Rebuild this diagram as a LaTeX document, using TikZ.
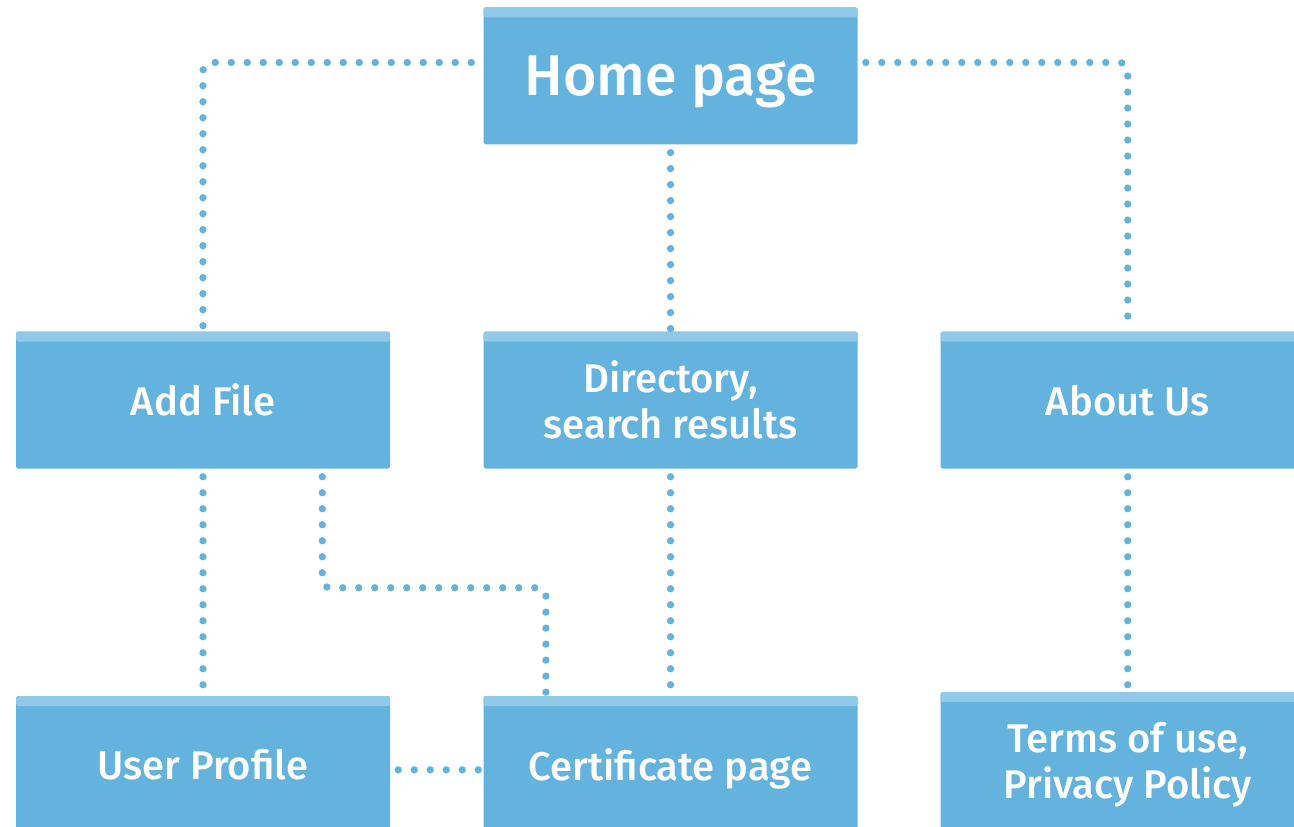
\documentclass[tikz,border=0pt]{standalone}
\usepackage{fontspec}
\setmainfont{Fira Sans}[UprightFont=* Medium]
\usetikzlibrary{positioning}
\definecolor{boxblue}{HTML}{64B3DF}
\definecolor{boxtop}{HTML}{91C9E8}
\tikzset{
    page/.style={rectangle, fill=boxblue, rounded corners=1.2pt, minimum width=280.5pt, minimum height=102.75pt,
        align=center, text=white, text depth=0pt, font=\fontsize{30}{34.5}\selectfont,
        path picture={\fill[boxtop] (path picture bounding box.north west) rectangle ([yshift=-7.5pt]path picture bounding box.north east);}},
    homepage/.style={page, font=\fontsize{43}{48}\selectfont},
    link/.style={boxblue, line width=5.5pt, line cap=round, dash pattern=on 0pt off 12pt, shorten <=6pt, shorten >=1pt},
    elbowlink/.style={link, rounded corners=6pt}
}
\begin{document}
\begin{tikzpicture}[x=0.75pt, y=-0.75pt]
    \useasboundingbox (0,0) rectangle (1294,826);
    % middle row
    \node[page] (addfile) at (203,400) {Add File};
    \node[page, right=69.75pt of addfile] (directory) {Directory,\\search results};
    \node[page, right=62pt of directory] (about) {About Us};

    % top
    \node[homepage, above=140pt of directory] (home) {Home page};

    % bottom row
    \node[page, below=170.25pt of addfile] (user) {User Profile};
    \node[page, below=170.25pt of directory] (cert) {Certificate page};
    \node[page, below=167.25pt of about] (terms) {Terms of use,\\Privacy Policy};

    % Lines
    \draw[elbowlink, shorten <=9pt] ([yshift=10pt]home.west) -| (addfile.north);
    \draw[elbowlink] ([yshift=10pt]home.east) -| (about.north);
    \draw[link] (home) -- (directory);
    \draw[link] (addfile) -- (user);
    \draw[elbowlink] ([xshift=-51pt]addfile.south east) -- ++(0,119) -| ([xshift=47pt]cert.north west);
    \draw[link] (directory) -- (cert);
    \draw[link] (about) -- (terms);
    \draw[link] ([yshift=-4pt]user.east) -- ([yshift=-4pt]cert.west);
\end{tikzpicture}
\end{document}
